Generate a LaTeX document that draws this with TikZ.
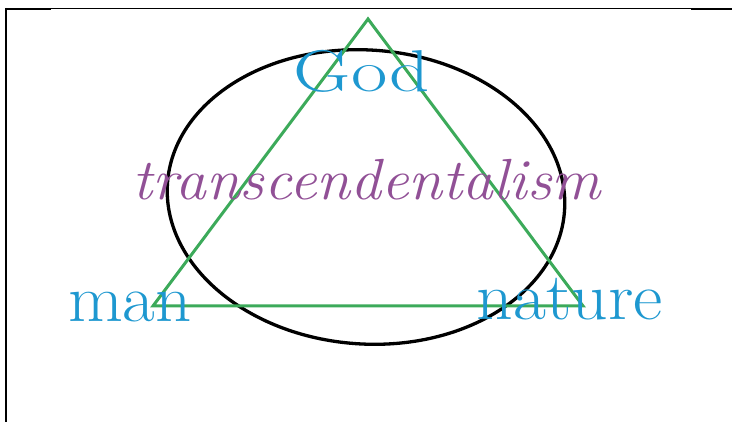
\documentclass[tikz,border=0pt]{standalone}
\usetikzlibrary{positioning}

\definecolor{wordblue}{RGB}{30,152,208}
\definecolor{wordpurple}{RGB}{145,80,150}
\definecolor{trigreen}{RGB}{60,170,90}

\tikzset{
  bigword/.style={text=wordblue, anchor=base, inner sep=0pt},
  ideaword/.style={text=wordpurple, anchor=base, inner sep=0pt},
  triside/.style={draw=trigreen, line width=3pt, line join=miter},
  frameline/.style={black, line width=2.5pt}
}

\begin{document}
\begin{tikzpicture}[x=1pt,y=-1pt]
\useasboundingbox (0,0) rectangle (732,422);

% frame
\draw[black,line width=1pt] (5,9) -- (732,9);
\draw[frameline] (5,9) -- (51,9);
\draw[frameline] (691,9) -- (732,9);
\draw[frameline] (6,8) -- (6,422);

% circle
\draw[black,line width=3.3pt,rotate around={-4:(366,197)}] (366,197) ellipse [x radius=199pt, y radius=147pt];

% triangle
\coordinate (T) at (368,19);
\coordinate (L) at (153,306);
\coordinate (R) at (583,306);
\draw[triside] (T) -- (L) -- (R) -- cycle;

% words
\node[bigword,font=\fontsize{59}{59}\selectfont] (god) at (362,92) {\scalebox{1.34}[1]{God}};
\node[ideaword,font=\fontsize{58}{58}\selectfont\itshape] (idea) at (367,200) {\scalebox{1.06}[1]{transcendentalism}};
\node[bigword,font=\fontsize{67}{67}\selectfont] (man) at (130,322) {\scalebox{1.06}[1]{man}};
\node[bigword,font=\fontsize{67}{67}\selectfont] (nature) at (570,320) {\scalebox{1.07}[1]{nature}};

\end{tikzpicture}
\end{document}
